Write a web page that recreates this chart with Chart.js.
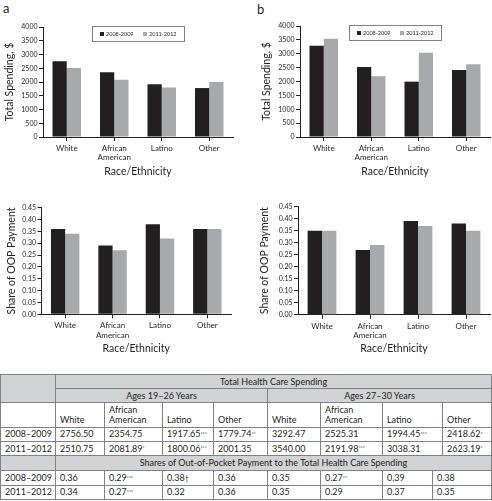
<!DOCTYPE html>
<html>
<head>
<meta charset="utf-8">
<script src="https://cdn.jsdelivr.net/npm/chart.js@4.4.1/dist/chart.umd.min.js"></script>
<style>
  body { margin: 0; background: #fff; width: 492px; height: 501px; position: relative; overflow: hidden;
         font-family: Lato, "Noto Sans", sans-serif; color: #231f20; }
  canvas { position: absolute; }
  .panel { position: absolute; font-size: 13px; line-height: 13px; }
  .cell { position: absolute; box-sizing: border-box; border: 1px solid #808285; font-size: 9px;
          line-height: 10px; padding: 0 4px; display: flex; align-items: center; white-space: nowrap; }
  .cell.gray { background: #d1d3d4; }
  .cell.mid { justify-content: center; }
  .cell.bot { align-items: flex-end; padding-bottom: 2px; }
  .cell sup { font-size: 5px; vertical-align: top; line-height: 5px; }
  .cell sup.dag { font-size: 7px; }
</style>
</head>
<body>
<div class="panel" style="left:3px;top:2px">a</div>
<div class="panel" style="left:257px;top:3px">b</div>
<canvas id="topA" width="245" height="182" style="left:0;top:0"></canvas>
<canvas id="topB" width="247" height="182" style="left:245px;top:0"></canvas>
<canvas id="botA" width="245" height="174" style="left:0;top:185px"></canvas>
<canvas id="botB" width="247" height="174" style="left:245px;top:185px"></canvas>
<div id="tbl"></div>
<script>
// categories and periods
const races = ["White", ["African", "American"], "Latino", "Other"];
const periods = ["2008-2009", "2011-2012"];
const periodsDash = ["2008–2009", "2011–2012"];

// total spending, $ (ages 19-26 / 27-30)
const spendYoung08 = [2756.50, 2354.75, 1917.65, 1779.74];
const spendYoung11 = [2510.75, 2081.89, 1800.06, 2001.35];
const spendOld08 = [3292.47, 2525.31, 1994.45, 2418.62];
const spendOld11 = [3540.00, 2191.98, 3038.31, 2623.19];

// share of out-of-pocket payment
const oopYoung08 = [0.36, 0.29, 0.38, 0.36];
const oopYoung11 = [0.34, 0.27, 0.32, 0.36];
const oopOld08 = [0.35, 0.27, 0.39, 0.38];
const oopOld11 = [0.35, 0.29, 0.37, 0.35];

// significance marks shown in the table
const spendMarks08 = ["", "", "***", "**", "", "", "***", "*"];
const spendMarks11 = ["", "*", "***", "", "", "***", "", "*"];
const oopMarks08 = ["", "***", "†", "", "", "**", "", ""];
const oopMarks11 = ["", "***", "", "", "", "", "", ""];

const DARK = "#231f20";
const LIGHT = "#a7a9ac";
const TXT = "#231f20";

// small boxed legend at the top of the plot area
const boxLegend = {
    id: "boxLegend",
    afterDraw(chart, args, opts) {
        if (!opts.show) return;
        const ctx = chart.ctx;
        const area = chart.chartArea;
        const w = 92, h = 15;
        const x = Math.round((area.left + area.right) / 2 - w / 2);
        const y = Math.round(area.top - 1);
        ctx.save();
        ctx.fillStyle = "#fff";
        ctx.fillRect(x, y, w, h);
        ctx.strokeStyle = "#808285";
        ctx.lineWidth = 1;
        ctx.strokeRect(x + 0.5, y + 0.5, w, h);
        ctx.font = "5.5px Lato";
        ctx.textBaseline = "middle";
        chart.data.datasets.forEach(function (ds, i) {
            const ix = x + 8 + i * 43;
            ctx.fillStyle = ds.backgroundColor;
            ctx.fillRect(ix, y + h / 2 - 1.5, 4, 4);
            ctx.fillStyle = TXT;
            ctx.fillText(ds.label, ix + 6, y + h / 2 + 0.5);
        });
        ctx.restore();
    },
};

function makeChart(id, d08, d11, o) {
    const ctx = document.getElementById(id).getContext("2d");
    return new Chart(ctx, {
        type: "bar",
        data: {
            labels: races,
            datasets: [
                { label: periods[0], data: d08, backgroundColor: DARK },
                { label: periods[1], data: d11, backgroundColor: LIGHT },
            ],
        },
        options: {
            responsive: false,
            animation: false,
            devicePixelRatio: 1,
            categoryPercentage: 0.6,
            barPercentage: 1.0,
            layout: { padding: { top: o.padTop, right: o.padRight, left: 0, bottom: 0 } },
            plugins: {
                legend: { display: false },
                tooltip: { enabled: false },
                boxLegend: { show: o.legend },
            },
            scales: {
                x: {
                    grid: { display: true, offset: false, drawOnChartArea: false, tickLength: 4, color: TXT },
                    border: { display: true, color: TXT, width: 1 },
                    ticks: { font: { family: "Lato", size: 8 }, color: TXT, padding: 2.5, maxRotation: 0 },
                    title: {
                        display: true, text: "Race/Ethnicity", color: TXT,
                        font: { family: "Lato", size: 10.5 }, padding: { top: 0, bottom: 3.7 },
                    },
                    afterFit: function (s) { s.height = o.xH; },
                },
                y: {
                    min: 0,
                    max: o.max,
                    grid: { display: true, drawOnChartArea: false, tickLength: 4, color: TXT },
                    border: { display: true, color: TXT, width: 1 },
                    ticks: {
                        stepSize: o.step,
                        font: { family: "Lato", size: 7 },
                        color: TXT,
                        padding: 1.5,
                        callback: o.fmt,
                    },
                    title: {
                        display: true, text: o.title, color: TXT,
                        font: { family: "Lato", size: 10.5 }, padding: { top: o.titlePad, bottom: 0 },
                    },
                    afterFit: function (s) { s.width = o.yW; },
                },
            },
        },
        plugins: [boxLegend],
    });
}

const intFmt = function (v) { return String(v); };
const decFmt = function (v) { return Number(v).toFixed(2); };

makeChart("topA", spendYoung08, spendYoung11,
    { max: 4000, step: 500, fmt: intFmt, title: "Total Spending, $", legend: true,
      padTop: 27, padRight: 12, yW: 43, xH: 45, titlePad: 3.7 });
makeChart("topB", spendOld08, spendOld11,
    { max: 4000, step: 500, fmt: intFmt, title: "Total Spending, $", legend: true,
      padTop: 26, padRight: 2, yW: 55, xH: 45, titlePad: 15.4 });
makeChart("botA", oopYoung08, oopYoung11,
    { max: 0.45, step: 0.05, fmt: decFmt, title: "Share of OOP Payment", legend: false,
      padTop: 22.7, padRight: 14, yW: 41.5, xH: 44.7, titlePad: 5.4 });
makeChart("botB", oopOld08, oopOld11,
    { max: 0.45, step: 0.05, fmt: decFmt, title: "Share of OOP Payment", legend: false,
      padTop: 21.7, padRight: 2, yW: 53, xH: 44.3, titlePad: 13.7 });

// ---- table below the charts ----
const tbl = document.getElementById("tbl");
const rowY = [374, 388, 402, 426.5, 441, 455, 470, 485, 498.5];
const colX = [0, 55, 104, 162, 213, 267, 320, 382, 442, 491];
const shareColX = [0, 55, 104, 162, 213, 267, 320, 382, 432, 491];

function cell(x0, y0, x1, y1, html, cls) {
    const d = document.createElement("div");
    d.className = "cell" + (cls ? " " + cls : "");
    d.style.left = x0 + "px";
    d.style.top = y0 + "px";
    d.style.width = (x1 - x0 + 1) + "px";
    d.style.height = (y1 - y0 + 1) + "px";
    d.innerHTML = html;
    tbl.appendChild(d);
}
function withMark(txt, mark) {
    if (!mark) return txt;
    return txt + '<sup class="' + (mark === "†" ? "dag" : "") + '">' + mark + "</sup>";
}

cell(colX[0], rowY[0], colX[1], rowY[2], "", "gray");
cell(colX[1], rowY[0], colX[9], rowY[1], "Total Health Care Spending", "gray mid");
cell(colX[1], rowY[1], colX[5], rowY[2], "Ages 19–26 Years", "gray mid");
cell(colX[5], rowY[1], colX[9], rowY[2], "Ages 27–30 Years", "gray mid");

cell(colX[0], rowY[2], colX[1], rowY[3], "", "");
const heads = races.concat(races);
heads.forEach(function (h, i) {
    const txt = Array.isArray(h) ? h.join("<br>") : h;
    cell(colX[i + 1], rowY[2], colX[i + 2], rowY[3], "<div>" + txt + "</div>", "bot");
});

const spend08 = spendYoung08.concat(spendOld08);
const spend11 = spendYoung11.concat(spendOld11);
[[spend08, spendMarks08], [spend11, spendMarks11]].forEach(function (r, ri) {
    const y0 = rowY[3 + ri], y1 = rowY[4 + ri];
    cell(colX[0], y0, colX[1], y1, periodsDash[ri], "");
    r[0].forEach(function (v, i) {
        cell(colX[i + 1], y0, colX[i + 2], y1, withMark(v.toFixed(2), r[1][i]), "");
    });
});

cell(colX[0], rowY[5], colX[1], rowY[6], "", "gray");
cell(colX[1], rowY[5], colX[9], rowY[6],
    "Shares of Out-of-Pocket Payment to the Total Health Care Spending", "gray mid");

const oop08 = oopYoung08.concat(oopOld08);
const oop11 = oopYoung11.concat(oopOld11);
[[oop08, oopMarks08], [oop11, oopMarks11]].forEach(function (r, ri) {
    const y0 = rowY[6 + ri], y1 = rowY[7 + ri];
    cell(shareColX[0], y0, shareColX[1], y1, periodsDash[ri], "");
    r[0].forEach(function (v, i) {
        cell(shareColX[i + 1], y0, shareColX[i + 2], y1, withMark(v.toFixed(2), r[1][i]), "");
    });
});
</script>
</body>
</html>
